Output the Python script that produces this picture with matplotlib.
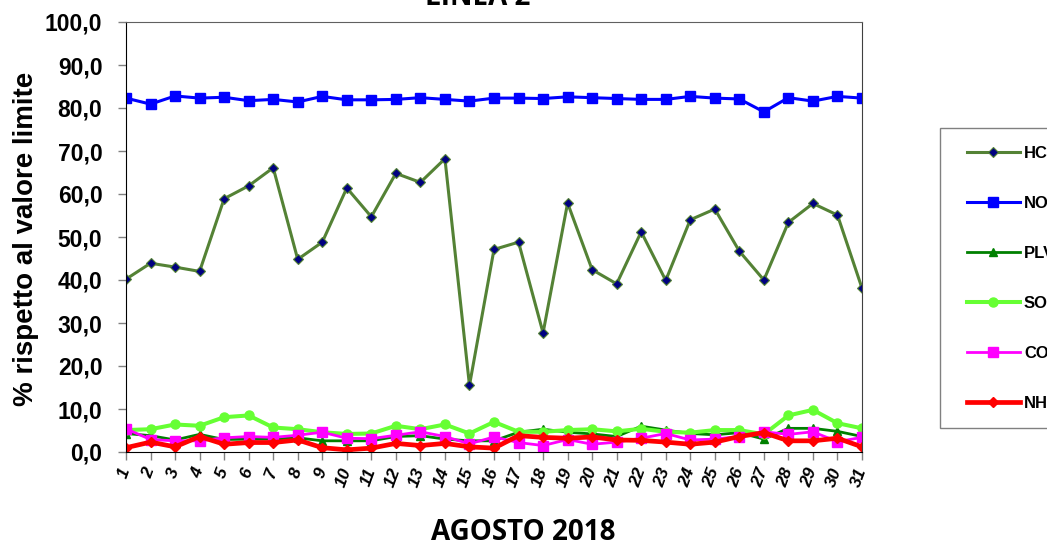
import matplotlib
matplotlib.use("Agg")

import matplotlib.pyplot as plt
from matplotlib.patches import Rectangle
from matplotlib.ticker import FuncFormatter

days = list(range(1, 32))
day_labels = [str(d) for d in days]

hc = [40.2, 43.9, 43.0, 42.0, 58.9, 61.9, 66.1, 44.8, 48.8, 61.4,
      54.7, 64.8, 62.7, 68.2, 15.5, 47.1, 48.8, 27.7, 57.9, 42.4,
      39.1, 51.2, 39.9, 54.0, 56.5, 46.7, 40.0, 53.4, 57.8, 55.1, 38.1]
no = [82.3, 80.9, 82.8, 82.3, 82.5, 81.7, 82.0, 81.4, 82.7, 81.9,
      81.9, 82.0, 82.4, 82.0, 81.6, 82.3, 82.3, 82.2, 82.6, 82.4,
      82.2, 82.0, 82.0, 82.7, 82.3, 82.1, 79.1, 82.4, 81.6, 82.7, 82.3]
plv = [4.3, 3.8, 2.8, 4.1, 2.9, 3.0, 3.0, 3.3, 2.6, 2.6,
       2.6, 3.6, 3.8, 3.0, 2.6, 2.6, 4.6, 5.3, 4.6, 4.2,
       3.6, 6.0, 5.1, 4.3, 4.0, 4.5, 3.0, 5.5, 5.5, 4.8, 3.6]
so = [5.1, 5.3, 6.4, 6.1, 8.1, 8.5, 5.7, 5.3, 4.6, 4.2,
      4.3, 6.1, 5.3, 6.4, 4.3, 7.0, 4.7, 4.7, 5.1, 5.3,
      4.8, 5.4, 4.7, 4.5, 5.1, 5.1, 4.1, 8.5, 9.8, 6.7, 5.5]
co = [5.4, 2.9, 2.6, 2.6, 3.3, 3.6, 3.4, 3.9, 4.6, 3.2,
      3.1, 3.9, 4.7, 3.6, 1.9, 3.5, 2.2, 1.5, 2.9, 1.8,
      2.3, 3.2, 4.3, 2.8, 3.0, 3.6, 4.7, 4.1, 4.7, 2.4, 3.4]
nh = [1.0, 2.3, 1.2, 3.6, 1.8, 2.2, 2.2, 2.8, 1.0, 0.5,
      0.9, 2.0, 1.5, 2.0, 1.2, 0.9, 3.8, 3.4, 3.2, 3.5,
      2.8, 2.7, 2.3, 1.8, 2.3, 3.6, 4.5, 2.6, 2.6, 3.2, 1.2]

plt.rcParams['font.family'] = ['Liberation Sans', 'DejaVu Sans']

W, H = 1047, 556
fig = plt.figure(figsize=(W / 100, H / 100), dpi=100)
ax = fig.add_axes([126 / W, 1 - 452 / H, (862 - 126) / W, (452 - 22) / H])

ax.plot(days, hc, color='#548235', lw=2.2, marker='D', ms=5,
        mfc='#000080', mec='#548235', mew=0.8, label='HCl')
ax.plot(days, no, color='#0000ff', lw=2.2, marker='s', ms=7,
        mfc='#0000ff', mec='#0000ff', label='NOx')
ax.plot(days, plv, color='#008000', lw=2.0, marker='^', ms=6,
        mfc='#008000', mec='#008000', label='PLV')
ax.plot(days, so, color='#66ff33', lw=2.9, marker='o', ms=6.5,
        mfc='#66ff33', mec='#66ff33', label='SO2')
ax.plot(days, co, color='#ff00ff', lw=2.0, marker='s', ms=6.5,
        mfc='#ff00ff', mec='#ff00ff', label='CO')
ax.plot(days, nh, color='#ff0000', lw=3.4, marker='D', ms=5,
        mfc='#ff0000', mec='#ff0000', label='NH3')

ax.set_xlim(1, 31)
ax.set_ylim(0, 100)
ax.set_yticks(range(0, 101, 10))
ax.yaxis.set_major_formatter(FuncFormatter(lambda v, p: f"{v:.1f}".replace('.', ',')))
ax.set_xticks(days)
ax.set_xticklabels(day_labels, rotation=70, ha='right', va='center',
                   rotation_mode='anchor', fontsize=12.5, fontweight='bold', style='italic')
for lab in ax.get_yticklabels():
    lab.set_fontsize(16.5)
    lab.set_fontweight('bold')

ax.tick_params(axis='both', direction='out', length=6, width=1, colors='#808080',
               labelcolor='black')
ax.tick_params(axis='y', pad=11)
ax.tick_params(axis='x', pad=6)
ax.spines['left'].set_color('black')
ax.spines['bottom'].set_color('black')
ax.spines['top'].set_color('#606060')
ax.spines['right'].set_color('#404040')

fig.text(26 / W, 1 - 239 / H, '% rispetto al valore limite', rotation=90,
         ha='center', va='center', fontsize=20, fontweight='bold')
fig.text(523 / W, 1 - 533 / H, 'AGOSTO 2018', ha='center', va='center',
         fontsize=20, fontweight='bold', family=['Open Sans', 'DejaVu Sans'])
fig.text(478 / W, 1 - 5 / H, 'LINEA 2', ha='center', va='baseline',
         fontsize=20, fontweight='bold', family=['Open Sans', 'DejaVu Sans'])

# legend box (runs past the right edge, as in the original)
fig.patches.append(Rectangle((940 / W, 1 - 428 / H), 130 / W, 300 / H,
                             transform=fig.transFigure, facecolor='white',
                             edgecolor='#808080', lw=1.0, zorder=1))
leg = fig.legend(loc='upper left', bbox_to_anchor=(967 / W, 1 - 146 / H),
                 frameon=False, handlelength=3.17, handletextpad=0.25,
                 labelspacing=2.1, borderpad=0, borderaxespad=0,
                 prop={'weight': 'bold', 'size': 12})
leg.set_zorder(3)

plt.savefig('out.png', dpi=100)
plt.close()
